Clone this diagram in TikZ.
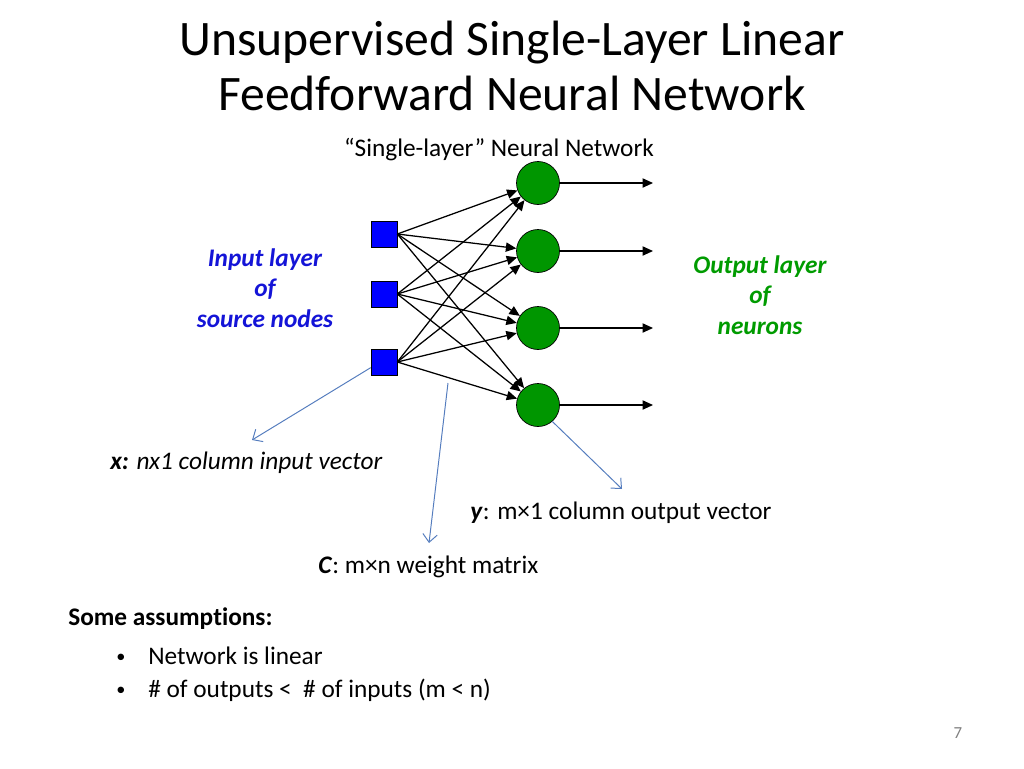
\documentclass[tikz,border=0pt]{standalone}
\usepackage{fontspec}
\setmainfont[Ligatures=CommonOff]{Carlito}
\usetikzlibrary{arrows.meta}
\definecolor{srcblue}{RGB}{0,0,255}
\definecolor{neurgreen}{RGB}{0,150,0}
\definecolor{txtblue}{RGB}{20,20,215}
\definecolor{txtgreen}{RGB}{0,155,0}
\definecolor{callout}{RGB}{85,125,190}

\begin{document}
\begin{tikzpicture}[x=0.25mm,y=-0.25mm,
	src/.style={draw=black,line width=0.4pt,fill=srcblue,minimum size=6.5mm,inner sep=0pt},
	neuron/.style={circle,draw=black,line width=0.5pt,fill=neurgreen,minimum size=10.75mm,inner sep=0pt},
	wire/.style={black,line width=0.9pt,-{Triangle[length=2.6mm,width=2.3mm]}},
	pointer/.style={callout,line width=0.7pt,-{Straight Barb[length=2mm,width=3.6mm]}},
	txt/.style={inner sep=0pt,font=\fontsize{18}{21.6}\selectfont}]
			\useasboundingbox (0,0) rectangle (1024,768);
			% title
			\node[inner sep=0pt,anchor=base,font=\fontsize{35.3}{40}\selectfont] (title1) at (512,55) {Unsupervised Single-Layer Linear};
			\node[inner sep=0pt,anchor=base,font=\fontsize{35.3}{40}\selectfont] (title2) at (512,110) {Feedforward Neural Network};
			\node[txt,anchor=base] (sub) at (499,156) {“Single-layer” Neural Network};
			% layers
			\node[src] (s1) at (384,234) {};
			\node[src] (s2) at (384,294) {};
			\node[src] (s3) at (384,362) {};
			\node[neuron] (n1) at (538,183) {};
			\node[neuron] (n2) at (538,251) {};
			\node[neuron] (n3) at (538,328) {};
			\node[neuron] (n4) at (538,405) {};
			\foreach \i in {1,2,3}
				\foreach \j in {1,...,4}
					\draw[wire] (s\i.east) -- (n\j);
			\foreach \j/\y in {1/183,2/251,3/328,4/405}{
				\coordinate (o\j) at (653,\y);
				\draw[wire] (n\j) -- (o\j);
			}
			\node[txt,align=center,text=txtblue,font=\fontsize{18}{21.6}\selectfont\bfseries\itshape] (inlab) at (265,288) {Input layer\\of\\source nodes};
			\node[txt,align=center,text=txtgreen,font=\fontsize{18}{21.6}\selectfont\bfseries\itshape] (outlab) at (760,295) {Output layer\\of\\neurons};
			% callouts
			\coordinate (xhead) at (252,440);
			\coordinate (wtail) at (448,383);
			\coordinate (whead) at (429,543);
			\coordinate (yhead) at (622,489);
			\draw[pointer] (s3.203) -- (xhead);
			\draw[pointer] (wtail) -- (whead);
			\draw[pointer] (n4.-49) -- (yhead);
			\node[txt,anchor=base west] (xlab) at (110,469) {\textbf{\textit{x:}} \textit{nx1 column input vector}};
			\node[txt,anchor=base west] (ylab) at (470,519) {\textbf{\textit{y}}: m×1 column output vector};
			\node[txt,anchor=base west] (clab) at (318,573) {\textbf{\textit{C}}: m×n weight matrix};
			% assumptions
			\node[txt,anchor=base west,font=\fontsize{18}{21.6}\selectfont\bfseries] (assum) at (68,625) {Some assumptions:};
			\node[txt,anchor=base west,font=\fontsize{13}{15}\selectfont] (b1) at (116,662) {•};
			\node[txt,anchor=base west] (t1) at (148,664) {Network is linear};
			\node[txt,anchor=base west,font=\fontsize{13}{15}\selectfont] (b2) at (116,695) {•};
			\node[txt,anchor=base west] (t2) at (148,697) {\# of outputs <~ \# of inputs (m < n)};
			\node[inner sep=0pt,anchor=base,text=gray,font=\fontsize{12}{14}\selectfont] (page) at (958,738) {7};
		\end{tikzpicture}
\end{document}
